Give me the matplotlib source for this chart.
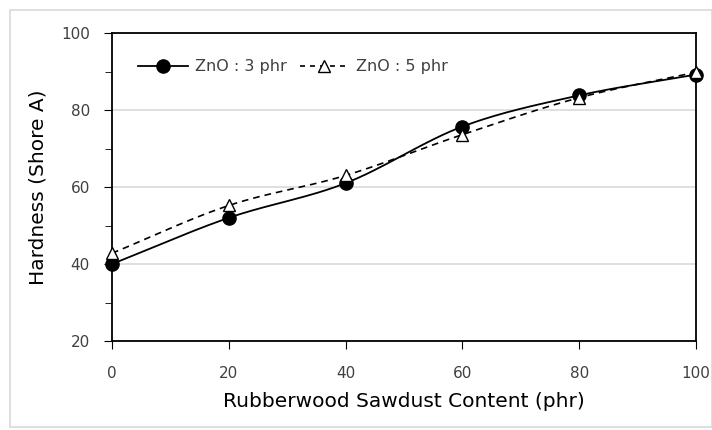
import numpy as np
import matplotlib
matplotlib.use("Agg")
import matplotlib.pyplot as plt
from matplotlib.patches import Rectangle
from matplotlib.lines import Line2D

sawdust = [0, 20, 40, 60, 80, 100]
zno3 = [40, 52, 61, 75.7, 83.8, 89.2]
zno5 = [42.8, 55.2, 63, 73.6, 83.2, 89.8]
labels = ["ZnO : 3 phr", "ZnO : 5 phr"]
xticks = [0, 20, 40, 60, 80, 100]
yticks = [20, 40, 60, 80, 100]


def smooth(x, y, n=30):
    # Catmull-Rom rendering of a smoothed line through the data points
    x = np.asarray(x, float)
    y = np.asarray(y, float)
    P = np.column_stack([x, y])
    P = np.vstack([2 * P[0] - P[1], P, 2 * P[-1] - P[-2]])
    out = []
    t = np.linspace(0, 1, n)[:, None]
    for i in range(1, len(P) - 2):
        p0, p1, p2, p3 = P[i - 1], P[i], P[i + 1], P[i + 2]
        seg = 0.5 * ((2 * p1) + (-p0 + p2) * t + (2 * p0 - 5 * p1 + 4 * p2 - p3) * t ** 2
                     + (-p0 + 3 * p1 - 3 * p2 + p3) * t ** 3)
        out.append(seg if i == 1 else seg[1:])
    out = np.vstack(out)
    return out[:, 0], out[:, 1]


plt.rcParams['font.family'] = ['DejaVu Sans']
fig = plt.figure(figsize=(7.12, 4.30), dpi=100)
fig.patches.append(Rectangle((10 / 712, 3 / 430), 702 / 712, 417 / 430, transform=fig.transFigure,
                             fill=False, edgecolor='#d9d9d9', linewidth=1.2))
ax = fig.add_axes([112 / 712, 1 - 341 / 430, 584 / 712, 308 / 430])

sx, sy = smooth(sawdust, zno3)
ax.plot(sx, sy, color='black', lw=1.3, zorder=3, clip_on=False)
ax.plot(sawdust, zno3, 'o', color='black', ms=9.5, zorder=4, clip_on=False)
sx, sy = smooth(sawdust, zno5)
ax.plot(sx, sy, color='black', lw=1.2, ls=(0, (4, 3)), zorder=3, clip_on=False)
ax.plot(sawdust, zno5, '^', mfc='white', mec='black', mew=1.0, ms=8, zorder=5, clip_on=False)

h1 = Line2D([], [], color='black', lw=1.3, marker='o', ms=9.5)
h2 = Line2D([], [], color='black', lw=1.2, ls=(0, (3, 3)), marker='^', mfc='white', mec='black', ms=8)
ax.legend([h1, h2], labels, loc='center left', bbox_to_anchor=(0.045, 0.89), ncol=2, frameon=False,
          fontsize=11.5, handlelength=3.1, columnspacing=0.8, handletextpad=0.45,
          borderpad=0, borderaxespad=0, labelcolor='#404040')

ax.set_xlim(0, 100)
ax.set_ylim(20, 100)
ax.set_xticks(xticks)
ax.set_yticks(yticks)
ax.set_yticks([30, 50, 70, 90], minor=True)
ax.grid(axis='y', which='major', color='#d9d9d9', lw=1.2)
ax.set_axisbelow(True)
ax.tick_params(axis='both', which='both', direction='out', color='black', labelcolor='#404040',
               labelsize=11)
ax.tick_params(axis='x', length=6, pad=12)
ax.tick_params(axis='y', which='major', length=6, pad=10)
ax.tick_params(axis='y', which='minor', length=5)
for s in ax.spines.values():
    s.set_linewidth(1.3)
    s.set_color('black')
ax.set_xlabel("Rubberwood Sawdust Content (phr)", fontsize=14.5, color='black', labelpad=8)
ax.set_ylabel("Hardness (Shore A)", fontsize=14.5, color='black', labelpad=10)

fig.savefig("out.png", dpi=100)
